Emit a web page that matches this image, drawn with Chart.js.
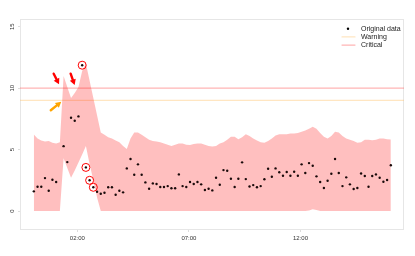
<!DOCTYPE html>
<html>
<head>
<meta charset="utf-8">
<script src="https://cdn.jsdelivr.net/npm/chart.js@4.4.1/dist/chart.umd.min.js"></script>
<style>
  html, body { margin: 0; padding: 0; background: #fff; }
  canvas { display: block; }
</style>
</head>
<body>
<canvas id="grafico" width="415" height="256"></canvas>
<script>
// Datos: una medida cada 10 minutos desde las 00:03
const inicioHoras = 0.05;
const pasoHoras = 1 / 6;

const valores = [
  1.6, 1.98, 1.98, 2.68, 1.65, 2.55, 2.36, null, 5.28, 3.98,
  7.59, 7.35, 7.7, 11.87, 3.55, 2.5, 1.93, 1.57, 1.41, 1.49,
  1.93, 1.93, 1.33, 1.65, 1.52, 3.47, 4.23, 2.95, 3.8, 2.95,
  2.33, 1.81, 2.25, 2.2, 1.95, 1.95, 2.03, 1.85, 1.85, 2.98,
  2.03, 1.95, 2.36, 2.2, 2.36, 2.17, 1.71, 1.81, 1.68, 2.71,
  2.14, 3.33, 3.28, 2.63, 1.95, 2.63, 3.96, 2.6, 2.0, 2.11,
  1.93, 2.03, 2.58, 3.44, 2.79, 3.47, 3.15, 2.87, 3.17, 2.87,
  3.2, 2.87, 3.8, 3.09, 3.9, 3.68, 2.82, 2.36, 1.87, 2.46,
  3.03, 4.23, 3.09, 2.03, 2.74, 2.17, 1.79, 1.87, 3.06, 2.85,
  1.98, 2.85, 2.98, 2.71, 2.38, 2.52, 3.72
];

const bandaSuperior = [
  6.23, 5.9, 5.75, 5.65, 5.7, 5.55, 5.5, 5.6, 11.0, 10.1,
  9.2, 9.6, 10.1, 11.4, 12.0, 10.6, 9.2, 7.8, 6.4, 6.2,
  6.0, 5.9, 5.75, 5.6, 5.3, 5.05, 5.9, 6.4, 6.4, 6.2,
  6.0, 5.8, 5.7, 5.65, 5.6, 5.5, 5.4, 5.3, 5.4, 5.5,
  5.5, 5.4, 5.37, 5.45, 5.5, 5.5, 5.4, 5.3, 5.25, 5.3,
  5.5, 5.6, 5.8, 6.05, 6.05, 5.85, 6.0, 6.25, 6.1, 5.9,
  5.75, 5.6, 5.55, 5.7, 5.9, 6.15, 6.25, 6.25, 6.25, 6.3,
  6.3, 6.35, 6.45, 6.55, 6.7, 6.85, 6.7, 6.35, 6.05, 5.9,
  6.1, 6.45, 6.4, 6.1, 5.9, 5.8, 5.7, 5.55, 5.6, 5.8,
  5.8, 5.77, 5.8, 5.9, 5.9, 5.85, 5.83
];

const bandaInferior = [
  0, 0, 0, 0, 0, 0, 0, 0, 4.3, 3.5,
  2.7, 3.3, 3.95, 4.6, 5.3, 3.8, 2.5, 1.1, 0, 0,
  0, 0, 0, 0, 0, 0, 0, 0, 0, 0,
  0, 0, 0, 0, 0, 0, 0, 0, 0, 0,
  0, 0, 0, 0, 0, 0, 0, 0, 0, 0,
  0, 0, 0, 0, 0, 0, 0, 0, 0, 0,
  0, 0, 0, 0, 0, 0, 0, 0, 0, 0,
  0, 0, 0, 0, 0.05, 0.15, 0.08, 0, 0, 0,
  0, 0, 0, 0, 0, 0, 0, 0, 0, 0,
  0, 0, 0, 0, 0, 0, 0
];

const indicesAtipicos = [13, 14, 15, 16];
const nivelWarning = 9;
const nivelCritical = 10;
const ticksX = [2, 7, 12];
const ticksY = [0, 5, 10, 15];

// Flechas de anotación en unidades de datos (hora, valor)
const flechas = [
  { desde: [0.94, 11.18], hasta: [1.18, 10.31], color: '#ff0000' },
  { desde: [1.70, 11.18], hasta: [1.88, 10.25], color: '#ff0000' },
  { desde: [0.81, 8.2], hasta: [1.28, 8.9], color: '#ffa500' }
];

const X_MIN = -0.57, X_MAX = 16.64;
const Y_MIN = -1.545, Y_MAX = 15.63;

const horas = valores.map((_, i) => inicioHoras + i * pasoHoras);
const puntos = valores.map((v, i) => ({ x: horas[i], y: v }));
const superior = bandaSuperior.map((v, i) => ({ x: horas[i], y: v }));
const inferior = bandaInferior.map((v, i) => ({ x: horas[i], y: v }));
const atipicos = indicesAtipicos.map(i => ({ x: horas[i], y: valores[i] }));

const colorWarning = 'rgba(255,200,120,0.45)';
const colorCritical = 'rgba(255,90,90,0.45)';

// --- PLUGINS ---
const marcoYLeyenda = {
    id: 'marcoYLeyenda',
    beforeDatasetsDraw(chart) {
        const { ctx, chartArea: a } = chart;
        ctx.save();
        ctx.strokeStyle = '#e6e6e6';
        ctx.lineWidth = 1;
        ctx.strokeRect(a.left + 0.5, a.top + 0.5, a.right - a.left - 1, a.bottom - a.top - 1);
        ctx.restore();
    },
    afterDraw(chart) {
        const { ctx, chartArea: a, scales } = chart;
        ctx.save();
        // flechas
        flechas.forEach(f => {
            const x0 = scales.x.getPixelForValue(f.desde[0]);
            const y0 = scales.y.getPixelForValue(f.desde[1]);
            const x1 = scales.x.getPixelForValue(f.hasta[0]);
            const y1 = scales.y.getPixelForValue(f.hasta[1]);
            const ang = Math.atan2(y1 - y0, x1 - x0);
            const cab = 6.5;
            ctx.strokeStyle = f.color;
            ctx.fillStyle = f.color;
            ctx.lineWidth = 2.4;
            ctx.lineCap = 'round';
            ctx.beginPath();
            ctx.moveTo(x0, y0);
            ctx.lineTo(x1 - Math.cos(ang) * cab * 0.7, y1 - Math.sin(ang) * cab * 0.7);
            ctx.stroke();
            ctx.beginPath();
            ctx.moveTo(x1, y1);
            ctx.lineTo(x1 - cab * Math.cos(ang - 0.5), y1 - cab * Math.sin(ang - 0.5));
            ctx.lineTo(x1 - cab * Math.cos(ang + 0.5), y1 - cab * Math.sin(ang + 0.5));
            ctx.closePath();
            ctx.fill();
        });

        // leyenda
        const entradas = [
            { texto: 'Original data', tipo: 'punto' },
            { texto: 'Warning', tipo: 'linea', color: colorWarning },
            { texto: 'Critical', tipo: 'linea', color: colorCritical }
        ];
        const xTexto = a.right - 43;
        ctx.font = '7px "Liberation Sans", Arial, sans-serif';
        ctx.textBaseline = 'middle';
        ctx.textAlign = 'left';
        entradas.forEach((e, i) => {
            const y = a.top + 9.7 + i * 8.2;
            if (e.tipo === 'punto') {
                ctx.fillStyle = '#000';
                ctx.beginPath();
                ctx.arc(a.right - 56, y, 1.2, 0, Math.PI * 2);
                ctx.fill();
            } else {
                ctx.strokeStyle = e.color;
                ctx.lineWidth = 1.2;
                ctx.beginPath();
                ctx.moveTo(a.right - 62, y);
                ctx.lineTo(a.right - 49, y);
                ctx.stroke();
            }
            ctx.fillStyle = '#222';
            ctx.fillText(e.texto, xTexto, y);
        });
        ctx.restore();
    }
};

function formatoHora(h) {
    const hh = Math.floor(h);
    const mm = Math.round((h - hh) * 60);
    return String(hh).padStart(2, '0') + ':' + String(mm).padStart(2, '0');
}

const ctx = document.getElementById('grafico').getContext('2d');
new Chart(ctx, {
    type: 'scatter',
    data: {
        datasets: [
            {
                label: 'Atípicos',
                data: atipicos,
                showLine: false,
                pointRadius: 4,
                pointBorderWidth: 1,
                pointBorderColor: '#ff0000',
                pointBackgroundColor: 'rgba(0,0,0,0)',
                order: 0
            },
            {
                label: 'Original data',
                data: puntos,
                showLine: false,
                pointRadius: 1.2,
                pointBorderWidth: 0,
                pointBackgroundColor: '#1a0a0a',
                order: 1
            },
            {
                label: 'Banda superior',
                data: superior,
                showLine: true,
                pointRadius: 0,
                borderWidth: 0,
                borderColor: 'rgba(0,0,0,0)',
                fill: false,
                order: 5
            },
            {
                label: 'Banda inferior',
                data: inferior,
                showLine: true,
                pointRadius: 0,
                borderWidth: 0,
                borderColor: 'rgba(0,0,0,0)',
                backgroundColor: 'rgba(255,0,0,0.25)',
                fill: '-1',
                order: 5
            },
            {
                label: 'Warning',
                data: [{ x: X_MIN, y: nivelWarning }, { x: X_MAX, y: nivelWarning }],
                showLine: true,
                pointRadius: 0,
                borderWidth: 1.2,
                borderColor: colorWarning,
                order: 6
            },
            {
                label: 'Critical',
                data: [{ x: X_MIN, y: nivelCritical }, { x: X_MAX, y: nivelCritical }],
                showLine: true,
                pointRadius: 0,
                borderWidth: 1.2,
                borderColor: colorCritical,
                order: 6
            }
        ]
    },
    options: {
        responsive: false,
        animation: false,
        layout: { padding: { top: 19, right: 11, left: 0, bottom: 0 } },
        plugins: {
            legend: { display: false },
            tooltip: { enabled: false }
        },
        scales: {
            x: {
                type: 'linear',
                min: X_MIN,
                max: X_MAX,
                afterFit: s => { s.height = 26; },
                afterBuildTicks: s => { s.ticks = ticksX.map(v => ({ value: v })); },
                border: { display: false },
                grid: { drawOnChartArea: false, tickLength: 2, color: '#dddddd' },
                ticks: {
                    padding: 3,
                    maxRotation: 0,
                    color: '#333',
                    font: { size: 6, family: '"Liberation Sans", Arial, sans-serif' },
                    callback: v => formatoHora(v)
                }
            },
            y: {
                type: 'linear',
                min: Y_MIN,
                max: Y_MAX,
                afterFit: s => { s.width = 20; },
                afterBuildTicks: s => { s.ticks = ticksY.map(v => ({ value: v })); },
                border: { display: false },
                grid: { drawOnChartArea: false, tickLength: 2, color: '#dddddd' },
                ticks: {
                    padding: 2.5,
                    minRotation: 90,
                    maxRotation: 90,
                    crossAlign: 'center',
                    color: '#333',
                    font: { size: 6, family: '"Liberation Sans", Arial, sans-serif' }
                }
            }
        }
    },
    plugins: [marcoYLeyenda]
});
</script>
</body>
</html>
